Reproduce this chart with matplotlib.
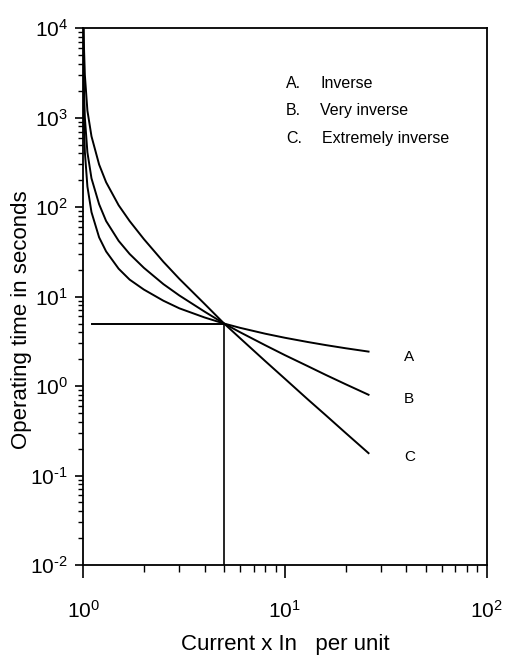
import numpy as np
import matplotlib
matplotlib.use("Agg")
import matplotlib.pyplot as plt
from matplotlib.ticker import LogLocator, NullFormatter, FuncFormatter

plt.rcParams['font.family'] = ['Liberation Sans', 'DejaVu Sans']
plt.rcParams['mathtext.fontset'] = 'custom'
plt.rcParams['mathtext.rm'] = 'Liberation Sans'
plt.rcParams['mathtext.it'] = 'Liberation Sans'

# current multiples (per unit) and operating times (s)
current = [1.002, 1.005, 1.01, 1.02, 1.05, 1.1, 1.2, 1.3, 1.5, 1.7,
           2, 2.5, 3, 4, 5, 6, 8, 10, 13, 16, 20, 26]
t_inverse = [4100, 1640, 822, 413, 170, 88, 46, 32, 20.5, 15.5,
             12, 9.0, 7.4, 5.85, 5.0, 4.48, 3.85, 3.47, 3.11, 2.87, 2.65, 2.43]
t_very = [10000, 4000, 2000, 1000, 410, 210, 108, 70, 42, 30,
          21, 13.8, 10.3, 6.8, 5.0, 4.0, 2.86, 2.22, 1.67, 1.33, 1.05, 0.80]
t_extreme = [30000, 12000, 6000, 3000, 1200, 620, 300, 190, 105, 70,
             44, 24.5, 15.8, 8.3, 5.0, 3.43, 1.90, 1.21, 0.71, 0.47, 0.30, 0.178]

curve_names = ["A", "B", "C"]
label_y = [2.1, 0.72, 0.162]
legend_keys = ["A.", "B.", "C."]
legend_names = ["Inverse", "Very inverse", "Extremely inverse"]

setting_current = 5
setting_time = 5


def pow10(v, pos):
    e = int(round(np.log10(v)))
    if e < 0:
        return r'$10^{\text{-}%d}$' % (-e)
    return r'$10^{%d}$' % e


fig = plt.figure(figsize=(5.10, 6.57), dpi=100)
ax = fig.add_axes([0.163, 0.140, 0.791, 0.817])

for t in (t_inverse, t_very, t_extreme):
    ax.plot(current, t, color='black', lw=1.4)

# setting lines
ax.plot([1.11, setting_current], [setting_time, setting_time], color='black', lw=1.4)
ax.plot([setting_current, setting_current], [0.01, setting_time], color='black', lw=1.2)

ax.set_xscale('log')
ax.set_yscale('log')
ax.set_xlim(1, 100)
ax.set_ylim(0.01, 10000)

ax.xaxis.set_major_locator(LogLocator(base=10, numticks=10))
ax.yaxis.set_major_locator(LogLocator(base=10, numticks=10))
ax.xaxis.set_minor_locator(LogLocator(base=10, subs=np.arange(2, 10), numticks=10))
ax.yaxis.set_minor_locator(LogLocator(base=10, subs=np.arange(2, 10), numticks=10))
ax.xaxis.set_major_formatter(FuncFormatter(pow10))
ax.yaxis.set_major_formatter(FuncFormatter(pow10))
ax.xaxis.set_minor_formatter(NullFormatter())
ax.yaxis.set_minor_formatter(NullFormatter())

ax.tick_params(axis='x', which='major', direction='out', length=9, width=1.2,
               labelsize=15, pad=16)
ax.tick_params(axis='y', which='major', direction='out', length=6, width=1.2,
               labelsize=15, pad=5)
ax.tick_params(axis='x', which='minor', direction='out', length=5, width=1.0)
ax.tick_params(axis='y', which='minor', direction='out', length=3.5, width=1.0)

for s in ax.spines.values():
    s.set_linewidth(1.3)

ax.set_xlabel("Current x In   per unit", fontsize=16, va='center')
ax.xaxis.set_label_coords(0.5, -0.149)
ax.set_ylabel("Operating time in seconds", fontsize=16, va='center')
ax.yaxis.set_label_coords(-0.152, 0.457)

for name, y in zip(curve_names, label_y):
    ax.text(41.4, y, name, fontsize=11, ha='center', va='center')

for i, (k, s) in enumerate(zip(legend_keys, legend_names)):
    y = 0.898 - i * 0.052
    ax.text(0.503, y, k, transform=ax.transAxes, fontsize=11.5,
            ha='left', va='center')
    ax.text(0.588 + (0.005 if i == 2 else 0), y, s, transform=ax.transAxes,
            fontsize=11.5, ha='left', va='center')

fig.savefig("out.png", dpi=100)
